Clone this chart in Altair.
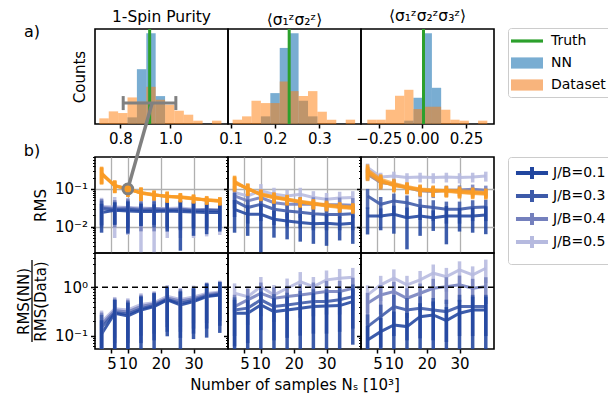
import altair as alt
import pandas as pd

FONT = "DejaVu Sans"
ORANGE = "#f99b25"
HIST_BLUE = "#1f77b4"
HIST_ORANGE = "#ff7f0e"
GREEN = "#2ca02c"
GREY = "#808080"
GRID = "#b0b0b0"

W = 133
H_HIST = 95
H_GAP = 33
H_ROW = 96

# ---------------- panel a: histograms ----------------
HIST_TITLES = ["1-Spin Purity", "⟨σ₁ᶻσ₂ᶻ⟩", "⟨σ₁ᶻσ₂ᶻσ₃ᶻ⟩"]
HIST_X_DOMAIN = [[0.698, 1.231], [0.094, 0.394], [-0.352, 0.41]]
HIST_X_TICKS = [[0.8, 1.0], [0.1, 0.2, 0.3], [-0.25, 0.0, 0.25]]
HIST_X_FMT = [".1f", ".1f", ".2f"]
HIST_BIN_START = [0.7154, 0.1044, -0.316]
HIST_BIN_WIDTH = [0.03763, 0.02126, 0.0529]
HIST_DATA_COUNTS = [
    [1.7, 3.8, 3.3, 8.0, 6.7, 11.2, 7.3, 5.8, 4.0, 2.8, 1.0, 0.0, 1.0],
    [1.3, 2.3, 7.0, 6.3, 6.3, 12.8, 9.9, 8.4, 9.9, 3.7, 1.3, 0.0, 1.3],
    [1.3, 1.3, 4.3, 8.5, 10.3, 4.5, 5.2, 5.2, 4.3, 1.3, 1.0, 0.0, 1.0],
]
HIST_NN_FIRST_BIN = [3, 3, 4]
HIST_NN_COUNTS = [
    [2.0, 16.5, 27.3, 8.4],
    [2.3, 9.3, 22.9, 27.3, 7.0, 2.3],
    [1.0, 7.9, 27.3, 10.9],
]
HIST_Y_MAX = 28.6
TRUTH = [0.917, 0.232, 0.006]
SPREAD_X = [0.811, 1.022]
SPREAD_Y = 6.3

LEG_NAMES = ["Truth", "NN", "Dataset"]
LEG_COLORS = [GREEN, "#79add2", "#f8b47c"]
LEG_SHAPES = ["M-2,-0.2H2V0.2H-2Z", "M-2,-0.7H2V0.7H-2Z", "M-2,-0.7H2V0.7H-2Z"]

# ---------------- panel b: RMS and ratio ----------------
NS = [2, 6, 10, 14, 18, 22, 26, 30, 34, 38]
JB = ["0.1", "0.3", "0.4", "0.5"]
JB_COLORS = ["#21469f", "#3d5aa9", "#7480bd", "#b6badf"]

RMS_NN_V = [
    [[0.0236, 0.0272, 0.0261, 0.0250, 0.0250, 0.0261, 0.0250, 0.0244, 0.0236, 0.0236],
     [0.0300, 0.0285, 0.0290, 0.0270, 0.0280, 0.0270, 0.0280, 0.0262, 0.0270, 0.0262],
     [0.0320, 0.0300, 0.0310, 0.0290, 0.0300, 0.0285, 0.0290, 0.0275, 0.0280, 0.0272],
     [0.0340, 0.0330, 0.0320, 0.0310, 0.0300, 0.0300, 0.0310, 0.0290, 0.0285, 0.0280]],
    [[0.0288, 0.0212, 0.0212, 0.0157, 0.0141, 0.0128, 0.0120, 0.0122, 0.0115, 0.0122],
     [0.048, 0.032, 0.039, 0.029, 0.026, 0.024, 0.022, 0.021, 0.021, 0.022],
     [0.065, 0.048, 0.059, 0.043, 0.039, 0.039, 0.039, 0.038, 0.038, 0.037],
     [0.080, 0.065, 0.089, 0.072, 0.065, 0.072, 0.059, 0.053, 0.057, 0.059]],
    [[0.0192, 0.0192, 0.0212, 0.0173, 0.0192, 0.0173, 0.0192, 0.0192, 0.0192, 0.0204],
     [0.065, 0.039, 0.048, 0.043, 0.035, 0.032, 0.029, 0.029, 0.032, 0.033],
     [0.245, 0.147, 0.133, 0.108, 0.089, 0.085, 0.092, 0.094, 0.098, 0.092],
     [0.369, 0.208, 0.221, 0.200, 0.208, 0.200, 0.208, 0.200, 0.208, 0.221]],
]
RMS_NN_E = [
    [[0.0167, 0.0161, 0.0196, 0.0146, 0.0139, 0.0187, 0.0227, 0.0187, 0.0173, 0.0162],
     [0.0190, 0.0170, 0.0200, 0.0165, 0.0185, 0.0175, 0.0195, 0.0170, 0.0180, 0.0172],
     [0.0220, 0.0205, 0.0240, 0.0215, 0.0225, 0.0200, 0.0210, 0.0190, 0.0200, 0.0190],
     [0.0240, 0.0280, 0.0260, 0.0290, 0.0285, 0.0250, 0.0260, 0.0240, 0.0230, 0.0220]],
    [[0.0219, 0.0155, 0.0193, 0.0106, 0.0095, 0.0088, 0.0085, 0.0091, 0.0072, 0.0087],
     [0.030, 0.020, 0.025, 0.018, 0.016, 0.015, 0.014, 0.013, 0.013, 0.014],
     [0.035, 0.028, 0.032, 0.024, 0.022, 0.022, 0.021, 0.020, 0.021, 0.020],
     [0.040, 0.035, 0.045, 0.035, 0.030, 0.035, 0.028, 0.025, 0.027, 0.028]],
    [[0.0130, 0.0112, 0.0147, 0.0148, 0.0135, 0.0096, 0.0158, 0.0118, 0.0123, 0.0141],
     [0.035, 0.022, 0.027, 0.024, 0.020, 0.018, 0.017, 0.017, 0.018, 0.019],
     [0.080, 0.050, 0.045, 0.035, 0.030, 0.028, 0.030, 0.030, 0.032, 0.030],
     [0.100, 0.060, 0.065, 0.060, 0.060, 0.060, 0.060, 0.060, 0.060, 0.065]],
]
RMS_DATA_V = [
    [[0.255, 0.120, 0.100, 0.078, 0.069, 0.064, 0.061, 0.055, 0.051, 0.048],
     [0.245, 0.125, 0.097, 0.080, 0.070, 0.062, 0.060, 0.056, 0.050, 0.047],
     [0.265, 0.118, 0.102, 0.076, 0.068, 0.065, 0.059, 0.054, 0.052, 0.049],
     [0.250, 0.122, 0.099, 0.079, 0.071, 0.063, 0.062, 0.057, 0.050, 0.048]],
    [[0.147, 0.102, 0.069, 0.059, 0.051, 0.045, 0.039, 0.035, 0.032, 0.030],
     [0.155, 0.098, 0.072, 0.061, 0.053, 0.046, 0.041, 0.036, 0.033, 0.031],
     [0.140, 0.105, 0.070, 0.058, 0.052, 0.044, 0.040, 0.037, 0.034, 0.032],
     [0.160, 0.100, 0.074, 0.062, 0.054, 0.047, 0.042, 0.038, 0.035, 0.033]],
    [[0.301, 0.163, 0.120, 0.108, 0.098, 0.089, 0.089, 0.080, 0.075, 0.072],
     [0.280, 0.170, 0.125, 0.110, 0.095, 0.090, 0.085, 0.082, 0.078, 0.075],
     [0.260, 0.150, 0.130, 0.105, 0.090, 0.087, 0.092, 0.090, 0.085, 0.080],
     [0.320, 0.180, 0.140, 0.115, 0.100, 0.095, 0.090, 0.085, 0.082, 0.078]],
]
RMS_DATA_E = [
    [[0.120, 0.043, 0.039, 0.030, 0.019, 0.021, 0.015, 0.014, 0.012, 0.011],
     [0.115, 0.045, 0.036, 0.028, 0.020, 0.019, 0.016, 0.014, 0.012, 0.011],
     [0.125, 0.041, 0.038, 0.029, 0.019, 0.020, 0.015, 0.013, 0.013, 0.012],
     [0.118, 0.044, 0.037, 0.031, 0.021, 0.020, 0.016, 0.015, 0.012, 0.011]],
    [[0.060, 0.035, 0.022, 0.018, 0.015, 0.013, 0.011, 0.010, 0.009, 0.008],
     [0.062, 0.034, 0.023, 0.019, 0.016, 0.013, 0.012, 0.010, 0.009, 0.009],
     [0.058, 0.036, 0.022, 0.018, 0.015, 0.012, 0.011, 0.010, 0.009, 0.009],
     [0.065, 0.035, 0.024, 0.019, 0.016, 0.014, 0.012, 0.011, 0.010, 0.009]],
    [[0.120, 0.060, 0.040, 0.035, 0.030, 0.028, 0.028, 0.025, 0.022, 0.020],
     [0.110, 0.062, 0.042, 0.036, 0.030, 0.028, 0.027, 0.025, 0.023, 0.021],
     [0.100, 0.055, 0.044, 0.034, 0.028, 0.027, 0.029, 0.027, 0.025, 0.023],
     [0.130, 0.065, 0.046, 0.037, 0.031, 0.029, 0.028, 0.026, 0.024, 0.022]],
]
RATIO_V = [
    [[0.108, 0.290, 0.255, 0.340, 0.398, 0.547, 0.431, 0.505, 0.641, 0.694],
     [0.150, 0.300, 0.280, 0.360, 0.420, 0.560, 0.470, 0.540, 0.660, 0.720],
     [0.170, 0.330, 0.310, 0.400, 0.450, 0.600, 0.520, 0.580, 0.700, 0.760],
     [0.190, 0.360, 0.340, 0.440, 0.480, 0.650, 0.560, 0.630, 0.740, 0.800]],
    [[0.290, 0.290, 0.431, 0.314, 0.340, 0.368, 0.398, 0.411, 0.418, 0.505],
     [0.340, 0.370, 0.550, 0.400, 0.430, 0.470, 0.510, 0.510, 0.550, 0.640],
     [0.398, 0.547, 0.751, 0.592, 0.641, 0.694, 0.751, 0.813, 0.813, 0.953],
     [0.751, 0.641, 1.030, 0.694, 0.953, 1.310, 1.030, 1.420, 1.540, 1.610]],
    [[0.0813, 0.121, 0.166, 0.154, 0.247, 0.268, 0.204, 0.290, 0.340, 0.340],
     [0.154, 0.247, 0.398, 0.340, 0.368, 0.340, 0.314, 0.398, 0.398, 0.398],
     [0.467, 0.694, 0.813, 0.592, 0.751, 0.953, 1.030, 1.120, 0.953, 1.030],
     [0.694, 1.120, 1.540, 1.120, 1.420, 1.950, 1.660, 2.280, 1.800, 2.470]],
]
RATIO_E = [
    [[0.100, 0.260, 0.220, 0.300, 0.350, 0.450, 0.380, 0.420, 0.550, 0.580],
     [0.120, 0.250, 0.230, 0.290, 0.340, 0.440, 0.380, 0.430, 0.520, 0.560],
     [0.130, 0.260, 0.240, 0.300, 0.340, 0.450, 0.400, 0.440, 0.520, 0.560],
     [0.140, 0.270, 0.250, 0.310, 0.350, 0.460, 0.410, 0.450, 0.530, 0.570]],
    [[0.260, 0.250, 0.380, 0.280, 0.300, 0.320, 0.350, 0.360, 0.370, 0.440],
     [0.280, 0.300, 0.420, 0.320, 0.340, 0.370, 0.400, 0.400, 0.430, 0.500],
     [0.300, 0.380, 0.500, 0.400, 0.430, 0.460, 0.500, 0.540, 0.540, 0.620],
     [0.450, 0.400, 0.600, 0.420, 0.560, 0.750, 0.600, 0.800, 0.850, 0.900]],
    [[0.080, 0.110, 0.150, 0.140, 0.220, 0.240, 0.185, 0.260, 0.300, 0.300],
     [0.120, 0.190, 0.300, 0.260, 0.280, 0.260, 0.240, 0.300, 0.300, 0.300],
     [0.300, 0.420, 0.480, 0.360, 0.440, 0.540, 0.580, 0.620, 0.540, 0.580],
     [0.400, 0.600, 0.800, 0.600, 0.750, 1.000, 0.850, 1.150, 0.900, 1.250]],
]

NS_DOMAIN = [0, 40.5]
NS_TICKS = [5, 10, 20, 30]
RMS_DOMAIN = [0.002, 0.7]
RMS_MINOR = [0.002, 0.003, 0.004, 0.005, 0.006, 0.007, 0.008, 0.009,
             0.02, 0.03, 0.04, 0.05, 0.06, 0.07, 0.08, 0.09,
             0.2, 0.3, 0.4, 0.5, 0.6, 0.7]
RATIO_DOMAIN = [0.053, 5.1]
RATIO_MINOR = [0.06, 0.07, 0.08, 0.09, 0.2, 0.3, 0.4, 0.5, 0.6, 0.7, 0.8, 0.9, 2, 3, 4, 5]
ARROW_TAIL = [17.4, 18.9]   # in panel b coordinates (Ns, RMS)
ARROW_HEAD = [10, 0.100]

# ---------------- shared encodings ----------------
LEG_COMMON = dict(title=None, orient="none", labelFontSize=14, labelFont=FONT, labelColor="black",
                  strokeColor="#cccccc", fillColor="white", cornerRadius=3)
LEG1 = alt.Legend(legendX=413, legendY=-1, symbolSize=256, symbolStrokeWidth=0,
                  symbolOpacity=1, symbolOffset=6, labelOffset=16, rowPadding=7, padding=5,
                  **LEG_COMMON)
LEG2 = alt.Legend(legendX=413, legendY=128, symbolType="M-2.67,0H2.67M0,-1V1",
                  symbolSize=144, symbolStrokeWidth=4, symbolFillColor="transparent",
                  symbolOpacity=1, symbolOffset=8, labelOffset=13, rowPadding=-5, padding=8,
                  labelExpr="'J/B=' + datum.label", **LEG_COMMON)
NN_COLOR = alt.Color("jb:N", scale=alt.Scale(domain=JB, range=JB_COLORS), legend=LEG2)


def text_at(txt, x, y, size=16):
    return alt.Chart(pd.DataFrame({"t": [txt]})).mark_text(
        fontSize=size, font=FONT, color="black", align="center", baseline="middle"
    ).encode(text="t:N", x=alt.value(x), y=alt.value(y))


def hist_panel(i):
    rows = []
    s, w = HIST_BIN_START[i], HIST_BIN_WIDTH[i]
    for k, c in enumerate(HIST_NN_COUNTS[i]):
        kk = HIST_NN_FIRST_BIN[i] + k
        rows.append({"kind": "NN", "x0": s + kk * w, "x1": s + (kk + 1) * w, "n": c})
    for k, c in enumerate(HIST_DATA_COUNTS[i]):
        rows.append({"kind": "Dataset", "x0": s + k * w, "x1": s + (k + 1) * w, "n": c})
    df = pd.DataFrame(rows)
    xs = alt.Scale(domain=HIST_X_DOMAIN[i], nice=False, zero=False)
    ys = alt.Scale(domain=[0, HIST_Y_MAX], nice=False)
    xaxis = alt.Axis(values=HIST_X_TICKS[i], format=HIST_X_FMT[i], title=None, grid=False,
                     labelFlush=False, labelOverlap=False, domain=False, tickSize=4)
    if i == 0:
        yaxis = alt.Axis(title="Counts", labels=False, ticks=False, domain=False, grid=False,
                         titlePadding=8)
    else:
        yaxis = None
    X = alt.X("x0:Q", scale=xs, axis=xaxis)
    Y = alt.Y("n:Q", scale=ys, axis=yaxis)
    base = alt.Chart(df)
    nn = base.transform_filter(alt.datum.kind == "NN").mark_rect(color=HIST_BLUE, opacity=0.6).encode(
        x=X, x2="x1:Q", y=Y, y2=alt.datum(0))
    ds = base.transform_filter(alt.datum.kind == "Dataset").mark_rect(color=HIST_ORANGE, opacity=0.52).encode(
        x=X, x2="x1:Q", y=Y, y2=alt.datum(0))
    truth = alt.Chart(pd.DataFrame({"t": [TRUTH[i]]})).mark_rule(color=GREEN, strokeWidth=3).encode(
        x=alt.X("t:Q", scale=xs, axis=xaxis))
    layers = [nn, ds, truth]
    if i == 0:
        sp = pd.DataFrame({"a": [SPREAD_X[0]], "b": [SPREAD_X[1]], "y": [SPREAD_Y]})
        bar = alt.Chart(sp).mark_rule(color=GREY, strokeWidth=3).encode(
            x=alt.X("a:Q", scale=xs, axis=xaxis), x2="b:Q", y=alt.Y("y:Q", scale=ys, axis=yaxis))
        caps = alt.Chart(pd.DataFrame({"x": SPREAD_X, "y": [SPREAD_Y, SPREAD_Y]})).mark_tick(
            color=GREY, orient="vertical", size=14, thickness=3, opacity=1).encode(
            x=alt.X("x:Q", scale=xs, axis=xaxis), y=alt.Y("y:Q", scale=ys, axis=yaxis))
        layers += [bar, caps, text_at("a)", -63, 3)]
    if i == 2:
        leg = alt.Chart(pd.DataFrame({"leg": LEG_NAMES})).mark_point(
            opacity=0, filled=True, size=256).encode(
            x=alt.value(0), y=alt.value(0),
            fill=alt.Fill("leg:N", scale=alt.Scale(domain=LEG_NAMES, range=LEG_COLORS), legend=LEG1),
            shape=alt.Shape("leg:N", scale=alt.Scale(domain=LEG_NAMES, range=LEG_SHAPES), legend=LEG1))
        layers.append(leg)
    return alt.layer(*layers).properties(
        width=W, height=H_HIST,
        title=alt.TitleParams(HIST_TITLES[i], fontSize=15.5, font=FONT, fontWeight="normal",
                              color="black", offset=-1))


def series_frame(vals, errs):
    # J/B=0.5 first so that J/B=0.1 is drawn last (on top)
    rows = []
    for j in reversed(range(len(JB))):
        for k, ns in enumerate(NS):
            v, e = vals[j][k], errs[j][k]
            rows.append({"ns": ns, "jb": JB[j], "v": v, "lo": max(v - e, 1e-6), "hi": v + e})
    return pd.DataFrame(rows)


def nn_layers(df, X, ys, yaxis):
    base = alt.Chart(df)
    line = base.mark_line(strokeWidth=3, clip=True, opacity=0.88).encode(
        x=X, y=alt.Y("v:Q", scale=ys, axis=yaxis), color=NN_COLOR, detail="jb:N")
    bars = base.mark_rule(strokeWidth=3.5, clip=True, opacity=0.88).encode(
        x=X, y=alt.Y("lo:Q", scale=ys, axis=None), y2="hi:Q", color=NN_COLOR)
    return [line, bars]


def data_layers(df, X, ys):
    base = alt.Chart(df)
    line = base.mark_line(color=ORANGE, strokeWidth=3, clip=True, opacity=0.7).encode(
        x=X, y=alt.Y("v:Q", scale=ys, axis=None), detail="jb:N")
    bars = base.mark_rule(color=ORANGE, strokeWidth=3.5, clip=True, opacity=0.7).encode(
        x=X, y=alt.Y("lo:Q", scale=ys, axis=None), y2="hi:Q", detail="jb:N")
    return [line, bars]


def minor_layer(df, X, ys, values):
    ax = alt.Axis(orient="left", values=values, labels=False, tickSize=2.5, tickWidth=1,
                  grid=False, domain=False, title=None)
    return alt.Chart(df).mark_point(opacity=0).encode(x=X, y=alt.Y("v:Q", scale=ys, axis=ax))


def rms_panel(i):
    xs = alt.Scale(domain=NS_DOMAIN, nice=False, zero=False)
    ys = alt.Scale(type="log", domain=RMS_DOMAIN, nice=False)
    xaxis = alt.Axis(values=NS_TICKS, labels=False, ticks=False, domain=False, grid=True,
                     gridColor=GRID, gridWidth=1.3, title=None)
    yaxis = alt.Axis(orient="left", values=[0.01, 0.1], grid=True, gridColor=GRID, gridWidth=1.3,
                     domain=False, labels=(i == 0), tickSize=4.5,
                     labelExpr="datum.value < 0.05 ? '10⁻²' : '10⁻¹'",
                     title="RMS" if i == 0 else None, titlePadding=6)
    X = alt.X("ns:Q", scale=xs, axis=xaxis)
    nn = series_frame(RMS_NN_V[i], RMS_NN_E[i])
    layers = nn_layers(nn, X, ys, yaxis)
    layers += data_layers(series_frame(RMS_DATA_V[i], RMS_DATA_E[i]), X, ys)
    layers.append(minor_layer(nn, X, ys, RMS_MINOR))
    if i == 0:
        arr = pd.DataFrame({"x": [ARROW_TAIL[0]], "y": [ARROW_TAIL[1]],
                            "x2": [ARROW_HEAD[0]], "y2": [ARROW_HEAD[1]]})
        arrow = alt.Chart(arr).mark_rule(color=GREY, strokeWidth=3.5, clip=False).encode(
            x=alt.X("x:Q", scale=xs, axis=xaxis), y=alt.Y("y:Q", scale=ys, axis=None),
            x2="x2:Q", y2="y2:Q")
        circ = alt.Chart(pd.DataFrame({"x": [ARROW_HEAD[0]], "y": [ARROW_HEAD[1]]})).mark_point(
            shape="circle", size=95, filled=True, fill=ORANGE, stroke=GREY, strokeWidth=3,
            opacity=1).encode(x=alt.X("x:Q", scale=xs, axis=xaxis), y=alt.Y("y:Q", scale=ys, axis=None))
        layers += [arrow, circ, text_at("b)", -63, -6)]
    return alt.layer(*layers).resolve_axis(y="independent").properties(width=W, height=H_ROW)


def ratio_panel(i):
    xs = alt.Scale(domain=NS_DOMAIN, nice=False, zero=False)
    ys = alt.Scale(type="log", domain=RATIO_DOMAIN, nice=False)
    xaxis = alt.Axis(values=NS_TICKS, grid=False, domain=False, tickSize=4, labelOverlap=False,
                     labelFlush=False,
                     title="Number of samples Nₛ [10³]" if i == 1 else None, titlePadding=6)
    yaxis = alt.Axis(orient="left", values=[0.1, 1.0], grid=False, domain=False, labels=(i == 0),
                     tickSize=4.5, labelExpr="datum.value < 0.5 ? '10⁻¹' : '10⁰'",
                     title=["RMS(NN)", "RMS(Data)"] if i == 0 else None, titlePadding=6)
    X = alt.X("ns:Q", scale=xs, axis=xaxis)
    one = alt.Chart(pd.DataFrame({"one": [1.0]})).mark_rule(
        color="black", strokeWidth=1.5, strokeDash=[6, 4]).encode(
        y=alt.Y("one:Q", scale=ys, axis=None))
    rf = series_frame(RATIO_V[i], RATIO_E[i])
    layers = nn_layers(rf, X, ys, yaxis)
    layers += [one, minor_layer(rf, X, ys, RATIO_MINOR)]
    if i == 0:
        frac = alt.Chart(pd.DataFrame({"z": [0]})).mark_rule(color="black", strokeWidth=1.3).encode(
            x=alt.value(-63), y=alt.value(7), y2=alt.value(89))
        layers.append(frac)
    return alt.layer(*layers).resolve_axis(y="independent").properties(width=W, height=H_ROW)


def spacer():
    return alt.Chart(pd.DataFrame({"z": [0]})).mark_point(opacity=0).encode(
        x=alt.value(0), y=alt.value(0)).properties(
        width=W, height=H_GAP, view=alt.ViewBackground(stroke="transparent"))


cells = [hist_panel(0), hist_panel(1), hist_panel(2),
         spacer(), spacer(), spacer(),
         rms_panel(0), rms_panel(1), rms_panel(2),
         ratio_panel(0), ratio_panel(1), ratio_panel(2)]

chart = alt.concat(*cells, columns=3, spacing=0, bounds="flush").properties(
    autosize=alt.AutoSizeParams(type="none"),
    padding={"left": 87, "top": 21, "right": 513, "bottom": 364},
).configure_view(
    stroke="black", strokeWidth=1.6
).configure_axis(
    labelFont=FONT, titleFont=FONT, labelFontSize=15, titleFontSize=15,
    labelColor="black", titleColor="black", titleFontWeight="normal",
    tickColor="black", tickWidth=1.5, labelPadding=3
).configure_legend(
    labelFont=FONT
)

chart.save("out.html", embed_options={"renderer": "svg", "actions": False})
